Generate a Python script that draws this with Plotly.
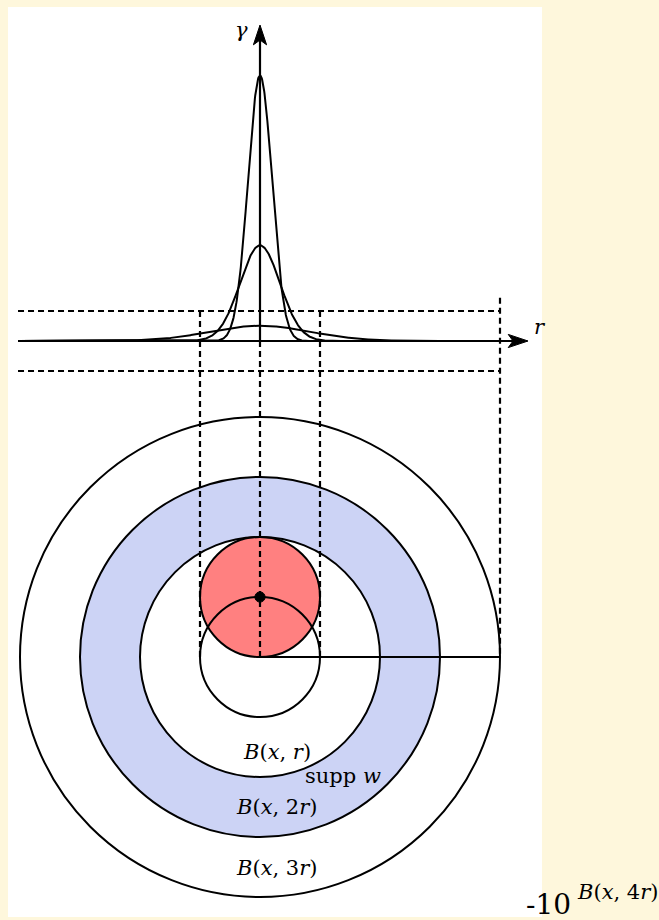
import numpy as np
import plotly.graph_objects as go

# ---- data (units of r) ----
ball_radii = [1, 2, 3, 4]                 # B(x,r), B(x,2r), B(x,3r), B(x,4r)
supp_inner, supp_outer = 2, 3             # supp w annulus
red_center = (0, 1)                       # shifted ball B(y, r)
red_radius = 1
kernel_sigmas = [0.2, 1/3, 5/6]           # widths of gamma_eps profiles
kernel_mass = 0.177                       # height = mass / sigma^2
axis_level = 5.2667                       # height of the r-axis
band_half = 0.5                           # dashed band around the r-axis
ball_labels = ["<i>B</i>(<i>x</i>, <i>r</i>)", "<i>B</i>(<i>x</i>, 2<i>r</i>)",
               "<i>B</i>(<i>x</i>, 3<i>r</i>)"]
ball_label_pos = [(0.28, -1.58), (0.27, -2.50), (0.27, -3.52)]
supp_label = "supp <i>w</i>"
supp_label_pos = (1.38, -1.98)

# ---- canvas geometry ----
W, H = 659, 920
L, R, T, B = 8, 542, 7, 917
PX = 60.0            # pixels per unit
cx_px, cy_px = 260, 657
xr = [(L - cx_px) / PX, (R - cx_px) / PX]
yr = [(cy_px - B) / PX, (cy_px - T) / PX]

fig = go.Figure()

# gamma profiles
xs = np.linspace(-4.03, 4.0, 1200)
for s in kernel_sigmas:
    ys = axis_level + kernel_mass / s**2 * np.exp(-xs**2 / (2 * s**2))
    fig.add_trace(go.Scatter(x=xs, y=ys, mode="lines",
                             line=dict(color="black", width=2),
                             hoverinfo="skip", showlegend=False))

shapes = []
blue = "#ccd3f5"
red = "#ff8080"
# fills
shapes.append(dict(type="circle", x0=-supp_outer, x1=supp_outer, y0=-supp_outer, y1=supp_outer,
                   fillcolor=blue, line=dict(width=0)))
shapes.append(dict(type="circle", x0=-supp_inner, x1=supp_inner, y0=-supp_inner, y1=supp_inner,
                   fillcolor="white", line=dict(width=0)))
shapes.append(dict(type="circle", x0=red_center[0]-red_radius, x1=red_center[0]+red_radius,
                   y0=red_center[1]-red_radius, y1=red_center[1]+red_radius,
                   fillcolor=red, line=dict(color="black", width=2)))
# outlines
for rr in ball_radii:
    shapes.append(dict(type="circle", x0=-rr, x1=rr, y0=-rr, y1=rr,
                       line=dict(color="black", width=2)))

dash = dict(color="black", width=2.2, dash="6px,4px")
xleft = -4.033
R4 = ball_radii[-1]
# horizontal dashed band
for yy in (axis_level + band_half, axis_level - band_half):
    shapes.append(dict(type="line", x0=xleft, x1=R4, y0=yy, y1=yy, line=dash))
# vertical dashed
for xx in (-1, 1):
    shapes.append(dict(type="line", x0=xx, x1=xx, y0=axis_level + band_half, y1=0, line=dash))
shapes.append(dict(type="line", x0=0, x1=0, y0=axis_level, y1=0, line=dash))
shapes.append(dict(type="line", x0=R4, x1=R4, y0=axis_level + 0.72, y1=0, line=dash))
# radius
shapes.append(dict(type="line", x0=0, x1=R4, y0=0, y1=0, line=dict(color="black", width=2)))

# axes
r_tip = 4.467
g_tip = 10.533
ah_len, ah_w, ah_notch = 0.33, 0.11, 0.08
shapes.append(dict(type="line", x0=xleft, x1=r_tip - ah_len * 0.6, y0=axis_level, y1=axis_level,
                   line=dict(color="black", width=2.2)))
shapes.append(dict(type="line", x0=0, x1=0, y0=axis_level, y1=g_tip - ah_len * 0.6,
                   line=dict(color="black", width=2.2)))
p = (f"M {r_tip} {axis_level} L {r_tip-ah_len} {axis_level+ah_w} "
     f"L {r_tip-ah_len+ah_notch} {axis_level} L {r_tip-ah_len} {axis_level-ah_w} Z")
shapes.append(dict(type="path", path=p, fillcolor="black", line=dict(color="black", width=1)))
p = (f"M 0 {g_tip} L {ah_w} {g_tip-ah_len} L 0 {g_tip-ah_len+ah_notch} "
     f"L {-ah_w} {g_tip-ah_len} Z")
shapes.append(dict(type="path", path=p, fillcolor="black", line=dict(color="black", width=1)))

# centre dot
dr = 0.085
shapes.append(dict(type="circle", x0=red_center[0]-dr, x1=red_center[0]+dr,
                   y0=red_center[1]-dr, y1=red_center[1]+dr,
                   fillcolor="black", line=dict(color="black", width=1)))

serif = "DejaVu Serif"
fs = 21
ann = []
for txt, (ax_, ay_) in zip(ball_labels, ball_label_pos):
    ann.append(dict(x=ax_, y=ay_, text=txt, showarrow=False,
                    font=dict(family=serif, size=fs, color="black")))
ann.append(dict(x=supp_label_pos[0], y=supp_label_pos[1], text=supp_label, showarrow=False,
                font=dict(family=serif, size=fs, color="black")))
ann.append(dict(x=-0.31, y=(cy_px - 30) / PX, text="<i>γ</i>", showarrow=False,
                font=dict(family=serif, size=fs, color="black")))

def px2paper(px, py):
    return (px - L) / (R - L), (B - py) / (B - T)

rx, ry = px2paper(548, 327)
ann.append(dict(x=rx, y=ry, xref="paper", yref="paper", text="<i>r</i>", showarrow=False,
                font=dict(family=serif, size=fs, color="black")))
tx, ty = px2paper(524, 923)
ann.append(dict(x=tx, y=ty, xref="paper", yref="paper", xanchor="left", yanchor="bottom",
                text="-10", showarrow=False,
                font=dict(family=serif, size=28, color="black")))
bx, by = px2paper(575, 906)
ann.append(dict(x=bx, y=by, xref="paper", yref="paper", xanchor="left", yanchor="bottom",
                text="<i>B</i>(<i>x</i>, 4<i>r</i>)",
                showarrow=False, font=dict(family=serif, size=fs, color="black")))

fig.update_layout(
    width=W, height=H,
    margin=dict(l=L, r=W - R, t=T, b=H - B, pad=0),
    paper_bgcolor="#fef7dc", plot_bgcolor="white",
    xaxis=dict(range=xr, visible=False, fixedrange=True),
    yaxis=dict(range=yr, visible=False, fixedrange=True),
    shapes=shapes, annotations=ann, showlegend=False,
)
fig.write_html("out.html", config={"displayModeBar": False},
               post_script="document.body.style.margin='0';"
                           "document.body.style.background='#fef7dc';")
